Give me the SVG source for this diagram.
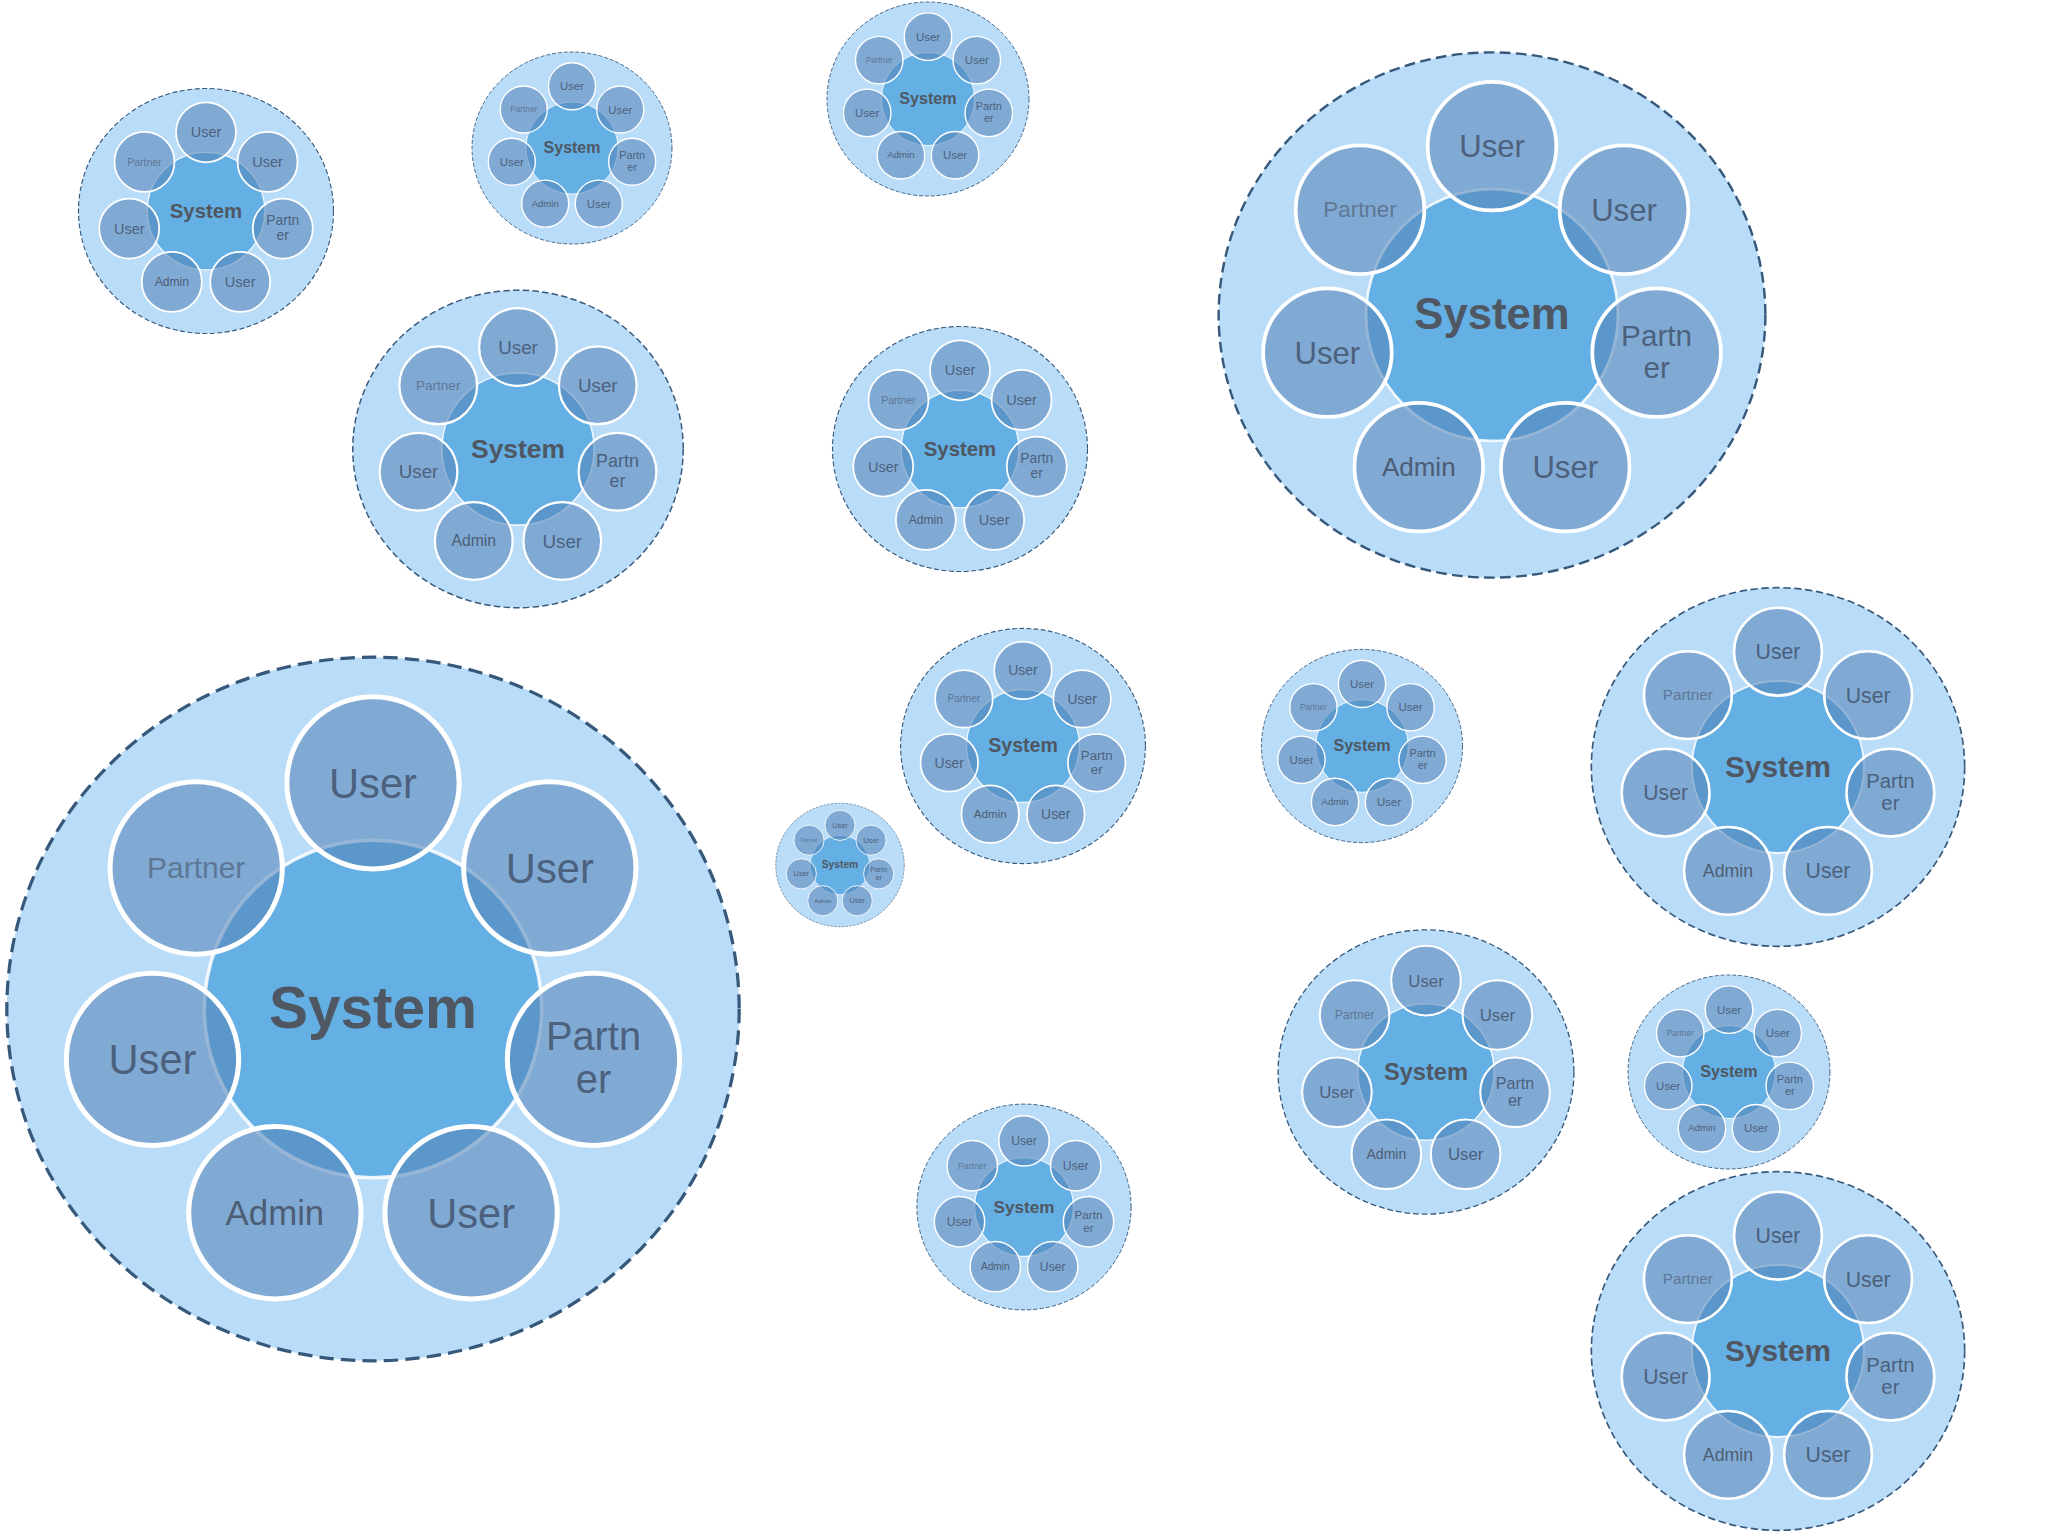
<svg xmlns="http://www.w3.org/2000/svg" width="2048" height="1536" viewBox="0 0 2048 1536">
<style>
.o{fill:#b9dcf8;stroke:#35587b;stroke-width:0.9;stroke-dasharray:4 2}
.s{fill:#64afe3;stroke:#ffffff;stroke-width:1;stroke-opacity:0.85}
.p{fill:#5786ba;fill-opacity:0.58;stroke:#ffffff;stroke-width:1.4}
.t{font-family:"Liberation Sans",Arial,sans-serif;text-anchor:middle;fill:#4c617d;font-size:11.6px}
.ts{font-weight:bold;fill:#4f5762;font-size:16.3px}
.ta{font-size:9.7px;fill:#4c5d74}
.tp{font-size:8.35px;fill:#5e7794}
.tr{font-size:11.1px}
</style>
<rect width="2048" height="1536" fill="#ffffff"/>
<defs>
<g id="tpl">
<ellipse class="o" rx="102" ry="98"/>
<circle class="s" r="47"/>
<circle class="p" cx="0" cy="-63" r="24"/>
<circle class="p" cx="49.25" cy="-39.28" r="24"/>
<circle class="p" cx="61.42" cy="14.02" r="24"/>
<circle class="p" cx="27.33" cy="56.76" r="24"/>
<circle class="p" cx="-27.33" cy="56.76" r="24"/>
<circle class="p" cx="-61.42" cy="14.02" r="24"/>
<circle class="p" cx="-49.25" cy="-39.28" r="24"/>
</g>
</defs>
<g id="cluster1" transform="translate(206,211) scale(1.25)">
<use href="#tpl"/>
<text class="t ts" x="0" y="5.3">System</text>
<text class="t" x="0" y="-58.9">User</text>
<text class="t" x="49.25" y="-35.2">User</text>
<text class="t tr" x="61.42" y="11.4">Partn</text>
<text class="t tr" x="61.42" y="23.5">er</text>
<text class="t" x="27.33" y="60.9">User</text>
<text class="t ta" x="-27.33" y="60.1">Admin</text>
<text class="t" x="-61.42" y="18.1">User</text>
<text class="t tp" x="-49.25" y="-36.4">Partner</text>
</g>
<g id="cluster2" transform="translate(572,148) scale(0.98)">
<use href="#tpl"/>
<text class="t ts" x="0" y="5.3">System</text>
<text class="t" x="0" y="-58.9">User</text>
<text class="t" x="49.25" y="-35.2">User</text>
<text class="t tr" x="61.42" y="11.4">Partn</text>
<text class="t tr" x="61.42" y="23.5">er</text>
<text class="t" x="27.33" y="60.9">User</text>
<text class="t ta" x="-27.33" y="60.1">Admin</text>
<text class="t" x="-61.42" y="18.1">User</text>
<text class="t tp" x="-49.25" y="-36.4">Partner</text>
</g>
<g id="cluster3" transform="translate(928,99) scale(0.99)">
<use href="#tpl"/>
<text class="t ts" x="0" y="5.3">System</text>
<text class="t" x="0" y="-58.9">User</text>
<text class="t" x="49.25" y="-35.2">User</text>
<text class="t tr" x="61.42" y="11.4">Partn</text>
<text class="t tr" x="61.42" y="23.5">er</text>
<text class="t" x="27.33" y="60.9">User</text>
<text class="t ta" x="-27.33" y="60.1">Admin</text>
<text class="t" x="-61.42" y="18.1">User</text>
<text class="t tp" x="-49.25" y="-36.4">Partner</text>
</g>
<g id="cluster4" transform="translate(1492,315) scale(2.68)">
<use href="#tpl"/>
<text class="t ts" x="0" y="5.3">System</text>
<text class="t" x="0" y="-58.9">User</text>
<text class="t" x="49.25" y="-35.2">User</text>
<text class="t tr" x="61.42" y="11.4">Partn</text>
<text class="t tr" x="61.42" y="23.5">er</text>
<text class="t" x="27.33" y="60.9">User</text>
<text class="t ta" x="-27.33" y="60.1">Admin</text>
<text class="t" x="-61.42" y="18.1">User</text>
<text class="t tp" x="-49.25" y="-36.4">Partner</text>
</g>
<g id="cluster5" transform="translate(518,449) scale(1.62)">
<use href="#tpl"/>
<text class="t ts" x="0" y="5.3">System</text>
<text class="t" x="0" y="-58.9">User</text>
<text class="t" x="49.25" y="-35.2">User</text>
<text class="t tr" x="61.42" y="11.4">Partn</text>
<text class="t tr" x="61.42" y="23.5">er</text>
<text class="t" x="27.33" y="60.9">User</text>
<text class="t ta" x="-27.33" y="60.1">Admin</text>
<text class="t" x="-61.42" y="18.1">User</text>
<text class="t tp" x="-49.25" y="-36.4">Partner</text>
</g>
<g id="cluster6" transform="translate(960,449) scale(1.25)">
<use href="#tpl"/>
<text class="t ts" x="0" y="5.3">System</text>
<text class="t" x="0" y="-58.9">User</text>
<text class="t" x="49.25" y="-35.2">User</text>
<text class="t tr" x="61.42" y="11.4">Partn</text>
<text class="t tr" x="61.42" y="23.5">er</text>
<text class="t" x="27.33" y="60.9">User</text>
<text class="t ta" x="-27.33" y="60.1">Admin</text>
<text class="t" x="-61.42" y="18.1">User</text>
<text class="t tp" x="-49.25" y="-36.4">Partner</text>
</g>
<g id="cluster7" transform="translate(373,1009) scale(3.59)">
<use href="#tpl"/>
<text class="t ts" x="0" y="5.3">System</text>
<text class="t" x="0" y="-58.9">User</text>
<text class="t" x="49.25" y="-35.2">User</text>
<text class="t tr" x="61.42" y="11.4">Partn</text>
<text class="t tr" x="61.42" y="23.5">er</text>
<text class="t" x="27.33" y="60.9">User</text>
<text class="t ta" x="-27.33" y="60.1">Admin</text>
<text class="t" x="-61.42" y="18.1">User</text>
<text class="t tp" x="-49.25" y="-36.4">Partner</text>
</g>
<g id="cluster8" transform="translate(1023,746) scale(1.2)">
<use href="#tpl"/>
<text class="t ts" x="0" y="5.3">System</text>
<text class="t" x="0" y="-58.9">User</text>
<text class="t" x="49.25" y="-35.2">User</text>
<text class="t tr" x="61.42" y="11.4">Partn</text>
<text class="t tr" x="61.42" y="23.5">er</text>
<text class="t" x="27.33" y="60.9">User</text>
<text class="t ta" x="-27.33" y="60.1">Admin</text>
<text class="t" x="-61.42" y="18.1">User</text>
<text class="t tp" x="-49.25" y="-36.4">Partner</text>
</g>
<g id="cluster9" transform="translate(840,865) scale(0.63)">
<use href="#tpl"/>
<text class="t ts" x="0" y="5.3">System</text>
<text class="t" x="0" y="-58.9">User</text>
<text class="t" x="49.25" y="-35.2">User</text>
<text class="t tr" x="61.42" y="11.4">Partn</text>
<text class="t tr" x="61.42" y="23.5">er</text>
<text class="t" x="27.33" y="60.9">User</text>
<text class="t ta" x="-27.33" y="60.1">Admin</text>
<text class="t" x="-61.42" y="18.1">User</text>
<text class="t tp" x="-49.25" y="-36.4">Partner</text>
</g>
<g id="cluster10" transform="translate(1362,746) scale(0.986)">
<use href="#tpl"/>
<text class="t ts" x="0" y="5.3">System</text>
<text class="t" x="0" y="-58.9">User</text>
<text class="t" x="49.25" y="-35.2">User</text>
<text class="t tr" x="61.42" y="11.4">Partn</text>
<text class="t tr" x="61.42" y="23.5">er</text>
<text class="t" x="27.33" y="60.9">User</text>
<text class="t ta" x="-27.33" y="60.1">Admin</text>
<text class="t" x="-61.42" y="18.1">User</text>
<text class="t tp" x="-49.25" y="-36.4">Partner</text>
</g>
<g id="cluster11" transform="translate(1778,767) scale(1.83)">
<use href="#tpl"/>
<text class="t ts" x="0" y="5.3">System</text>
<text class="t" x="0" y="-58.9">User</text>
<text class="t" x="49.25" y="-35.2">User</text>
<text class="t tr" x="61.42" y="11.4">Partn</text>
<text class="t tr" x="61.42" y="23.5">er</text>
<text class="t" x="27.33" y="60.9">User</text>
<text class="t ta" x="-27.33" y="60.1">Admin</text>
<text class="t" x="-61.42" y="18.1">User</text>
<text class="t tp" x="-49.25" y="-36.4">Partner</text>
</g>
<g id="cluster12" transform="translate(1426,1072) scale(1.45)">
<use href="#tpl"/>
<text class="t ts" x="0" y="5.3">System</text>
<text class="t" x="0" y="-58.9">User</text>
<text class="t" x="49.25" y="-35.2">User</text>
<text class="t tr" x="61.42" y="11.4">Partn</text>
<text class="t tr" x="61.42" y="23.5">er</text>
<text class="t" x="27.33" y="60.9">User</text>
<text class="t ta" x="-27.33" y="60.1">Admin</text>
<text class="t" x="-61.42" y="18.1">User</text>
<text class="t tp" x="-49.25" y="-36.4">Partner</text>
</g>
<g id="cluster13" transform="translate(1729,1072) scale(0.99)">
<use href="#tpl"/>
<text class="t ts" x="0" y="5.3">System</text>
<text class="t" x="0" y="-58.9">User</text>
<text class="t" x="49.25" y="-35.2">User</text>
<text class="t tr" x="61.42" y="11.4">Partn</text>
<text class="t tr" x="61.42" y="23.5">er</text>
<text class="t" x="27.33" y="60.9">User</text>
<text class="t ta" x="-27.33" y="60.1">Admin</text>
<text class="t" x="-61.42" y="18.1">User</text>
<text class="t tp" x="-49.25" y="-36.4">Partner</text>
</g>
<g id="cluster14" transform="translate(1024,1207) scale(1.05)">
<use href="#tpl"/>
<text class="t ts" x="0" y="5.3">System</text>
<text class="t" x="0" y="-58.9">User</text>
<text class="t" x="49.25" y="-35.2">User</text>
<text class="t tr" x="61.42" y="11.4">Partn</text>
<text class="t tr" x="61.42" y="23.5">er</text>
<text class="t" x="27.33" y="60.9">User</text>
<text class="t ta" x="-27.33" y="60.1">Admin</text>
<text class="t" x="-61.42" y="18.1">User</text>
<text class="t tp" x="-49.25" y="-36.4">Partner</text>
</g>
<g id="cluster15" transform="translate(1778,1351) scale(1.83)">
<use href="#tpl"/>
<text class="t ts" x="0" y="5.3">System</text>
<text class="t" x="0" y="-58.9">User</text>
<text class="t" x="49.25" y="-35.2">User</text>
<text class="t tr" x="61.42" y="11.4">Partn</text>
<text class="t tr" x="61.42" y="23.5">er</text>
<text class="t" x="27.33" y="60.9">User</text>
<text class="t ta" x="-27.33" y="60.1">Admin</text>
<text class="t" x="-61.42" y="18.1">User</text>
<text class="t tp" x="-49.25" y="-36.4">Partner</text>
</g>
<g id="connectors"/>
</svg>
